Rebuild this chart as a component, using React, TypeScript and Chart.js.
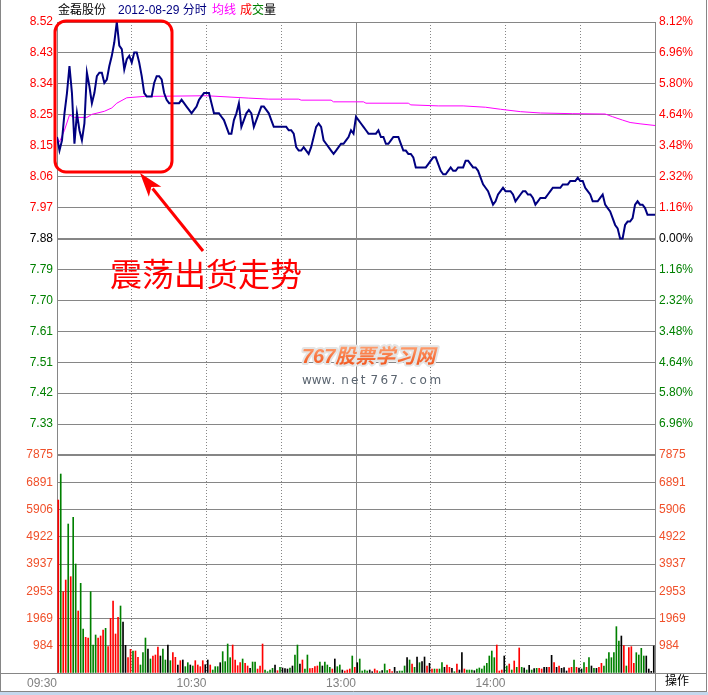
import React, { useEffect, useRef } from 'react';
import { Chart, registerables } from 'chart.js';

Chart.register(...registerables);

const STOCK_NAME = '金磊股份';
const TRADE_DATE = '2012-08-29';
const ANNOTATION = '震荡出货走势';
const WATERMARK = '767股票学习网';
const WATERMARK_URL = 'www.net767.com';
const CORNER_LABEL = '操作';

const PREV_CLOSE = 7.88;
const PRICE_TOP = 8.52;
const PRICE_LABELS = ['8.52', '8.43', '8.34', '8.25', '8.15', '8.06', '7.97', '7.88', '7.79', '7.70', '7.61', '7.51', '7.42', '7.33'];
const PCT_LABELS = ['8.12%', '6.96%', '5.80%', '4.64%', '3.48%', '2.32%', '1.16%', '0.00%', '1.16%', '2.32%', '3.48%', '4.64%', '5.80%', '6.96%'];
const VOL_TOP = 7875;
const VOL_LABELS = ['7875', '6891', '5906', '4922', '3937', '2953', '1969', '984'];
const TIME_LABELS = ['09:30', '', '10:30', '', '13:00', '', '14:00', '', ''];

// price per minute, 09:30 (0) .. 15:00 (240)
const PRICE = [
  8.18, 8.14, 8.17, 8.25, 8.31, 8.39, 8.31, 8.16, 8.25, 8.20,
  8.17, 8.22, 8.37, 8.33, 8.28, 8.31, 8.36, 8.37, 8.37, 8.34,
  8.35, 8.39, 8.42, 8.46, 8.52, 8.45, 8.44, 8.38, 8.41, 8.42,
  8.40, 8.43, 8.43, 8.40, 8.36, 8.31, 8.30, 8.30, 8.30, 8.34,
  8.36, 8.36, 8.35, 8.31, 8.29, 8.28, 8.28, 8.28, 8.28, 8.28,
  8.29, 8.28, 8.27, 8.26, 8.25, 8.26, 8.27, 8.29, 8.30, 8.31,
  8.31, 8.31, 8.28, 8.25, 8.25, 8.25, 8.24, 8.23, 8.21, 8.19,
  8.19, 8.23, 8.25, 8.28, 8.21, 8.23, 8.25, 8.26, 8.25, 8.21,
  8.23, 8.25, 8.27, 8.27, 8.26, 8.25, 8.23, 8.21, 8.21, 8.21,
  8.21, 8.21, 8.21, 8.20, 8.20, 8.19, 8.15, 8.14, 8.14, 8.15,
  8.14, 8.13, 8.15, 8.18, 8.21, 8.22, 8.21, 8.17, 8.16, 8.15,
  8.14, 8.13, 8.14, 8.15, 8.16, 8.16, 8.17, 8.18, 8.20, 8.19,
  8.24, 8.23, 8.22, 8.21, 8.20, 8.19, 8.19, 8.19, 8.19, 8.20,
  8.18, 8.18, 8.16, 8.16, 8.17, 8.18, 8.18, 8.18, 8.16, 8.14,
  8.14, 8.13, 8.13, 8.12, 8.09, 8.09, 8.09, 8.09, 8.09, 8.10,
  8.11, 8.12, 8.12, 8.10, 8.08, 8.07, 8.07, 8.08, 8.09, 8.08,
  8.08, 8.09, 8.09, 8.09, 8.11, 8.11, 8.10, 8.09, 8.09, 8.08,
  8.06, 8.04, 8.03, 8.02, 8.00, 7.98, 7.99, 8.01, 8.02, 8.03,
  8.02, 8.02, 8.02, 8.01, 7.99, 8.00, 8.01, 8.02, 8.02, 8.01,
  8.01, 8.00, 7.98, 7.99, 8.00, 8.00, 8.00, 8.01, 8.02, 8.03,
  8.03, 8.03, 8.03, 8.04, 8.04, 8.04, 8.05, 8.05, 8.05, 8.06,
  8.05, 8.05, 8.03, 8.02, 8.01, 7.99, 7.99, 7.99, 8.00, 8.01,
  7.98, 7.97, 7.96, 7.94, 7.92, 7.91, 7.88, 7.88, 7.92, 7.93,
  7.93, 7.94, 7.98, 7.99, 7.98, 7.98, 7.97, 7.95, 7.95, 7.95,
  7.95,
];

// average price line, read at these minutes
const AVG_MIN = [0, 1, 3, 5, 7, 12, 14, 19, 22, 24, 28, 35, 60, 77, 85, 97, 98, 110, 111, 123, 124, 141, 142, 153, 163, 172, 178, 186, 194, 207, 220, 223, 227, 230, 234, 240];
const AVG_PRICE = [8.18, 8.165, 8.2, 8.245, 8.238, 8.238, 8.247, 8.256, 8.266, 8.28, 8.296, 8.3, 8.302, 8.295, 8.292, 8.292, 8.289, 8.289, 8.284, 8.284, 8.28, 8.28, 8.275, 8.272, 8.272, 8.268, 8.262, 8.255, 8.251, 8.249, 8.248, 8.24, 8.23, 8.223, 8.219, 8.214];

// volume per minute bar (240 bars)
const VOLUME = [
  6249, 7188, 2938, 3359, 5382, 3480, 5623, 3937, 2240, 3239,
  1589, 1288, 1264, 2938, 1011, 1373, 1264, 1337, 1553, 1613,
  951, 1975, 2601, 1409, 2011, 2420, 1842, 999, 554, 855,
  795, 795, 566, 289, 735, 1264, 867, 506, 614, 650,
  939, 614, 867, 470, 1011, 446, 735, 566, 289, 446,
  470, 229, 373, 289, 253, 446, 289, 229, 446, 300,
  470, 289, 108, 229, 229, 373, 771, 410, 1047, 554,
  1011, 470, 265, 373, 506, 349, 253, 169, 397, 397,
  144, 253, 1047, 108, 48, 108, 169, 289, 84, 205,
  181, 157, 144, 181, 253, 650, 1011, 325, 470, 144,
  650, 157, 169, 229, 253, 397, 253, 397, 289, 205,
  144, 506, 229, 289, 108, 72, 108, 144, 614, 205,
  373, 506, 72, 108, 72, 108, 48, 144, 84, 48,
  84, 325, 84, 132, 48, 205, 48, 72, 72, 253,
  554, 470, 325, 205, 578, 373, 409, 578, 253, 349,
  144, 144, 144, 144, 373, 205, 289, 205, 169, 48,
  325, 108, 734, 144, 108, 108, 108, 84, 144, 181,
  144, 253, 349, 614, 794, 554, 1011, 72, 108, 614,
  253, 325, 108, 434, 205, 904, 205, 181, 108, 277,
  108, 157, 169, 169, 144, 205, 205, 205, 638, 373,
  205, 253, 169, 193, 72, 181, 205, 470, 205, 181,
  144, 373, 205, 554, 253, 169, 169, 205, 349, 253,
  506, 734, 554, 734, 1674, 1156, 1336, 987, 253, 915,
  951, 349, 734, 650, 891, 614, 614, 144, 60, 975,
];

// r = up (red), g = down (green), k = flat (black)
const VOL_SIDE = (
  'rgrrgrggrg' + 'grrgggrrrg' + 'rrrrrgkkrr' + 'grrgggkgrr' + 'rkggkgrrkr' +
  'kggkgrrrrk' + 'krgggkgggg' + 'rrrrgrrkgg' + 'rrrggggkrg' + 'kkkgkggkrg' +
  'grrrrgkggg' + 'rkggkrrrgr' + 'kggggkkrrg' + 'kggrrkkggg' + 'kgrgkgkkrk' +
  'rgrggkrrkg' + 'rkkrgggkgg' + 'ggggggrrrk' + 'grgrgrgkgk' + 'gkgrrkkrkr' +
  'krkkkrrgrk' + 'kgrgkgkrrg' + 'ggggggkrgr' + 'rrggggkkkk'
).split('');

const RED = '#ff0000';
const GREEN = '#008000';
const BLACK = '#000000';
const NAVY = '#000080';
const MAGENTA = '#ff00ff';
const GRID = '#868686';
const VOL_TEXT = '#f0502a';
const LABEL_FONT = { family: '"Liberation Sans", Arial, sans-serif', size: 12 };

const PRICE_STEP = (PRICE_TOP - PREV_CLOSE) / 7;
const PRICE_BOTTOM = PREV_CLOSE - (PRICE_TOP - PREV_CLOSE);
const PRICE_TICKS = Array.from({ length: 15 }, (_, j) => PRICE_TOP - j * PRICE_STEP);
const VOL_TICKS = Array.from({ length: 9 }, (_, j) => VOL_TOP - (j * VOL_TOP) / 8);
const TIME_TICKS = Array.from({ length: 9 }, (_, j) => j * 30);

const sideColor = (s: string) => (s === 'r' ? RED : s === 'g' ? GREEN : BLACK);
const levelColor = (i: number) => (i < 7 ? RED : i === 7 ? BLACK : GREEN);

const decor = {
  id: 'decor',
  beforeDraw(chart: any) {
    const { ctx, width, height } = chart;
    ctx.save();
    ctx.fillStyle = '#ffffff';
    ctx.fillRect(0, 0, width, height);
    ctx.restore();
  },
  afterDraw(chart: any) {
    const { ctx, chartArea: a } = chart;
    ctx.save();
    const L = (x1: number, y1: number, x2: number, y2: number) => {
      ctx.beginPath();
      ctx.moveTo(x1, y1);
      ctx.lineTo(x2, y2);
      ctx.stroke();
    };
    // frame
    ctx.strokeStyle = GRID;
    ctx.lineWidth = 1;
    L(0, Math.round(a.bottom) + 0.5, 707, Math.round(a.bottom) + 0.5);
    L(0, 691.5, 707, 691.5);
    L(0.5, 0, 0.5, 692);
    L(706.5, 0, 706.5, 692);
    L(Math.round(a.right) + 0.5, a.bottom, Math.round(a.right) + 0.5, 692);
    ctx.fillStyle = '#c4d8ee';
    ctx.fillRect(0, 692, 708, 3);

    // header
    ctx.textBaseline = 'middle';
    ctx.textAlign = 'left';
    ctx.font = '12px "Liberation Sans", "Noto Sans CJK SC", sans-serif';
    ctx.fillStyle = BLACK;
    ctx.fillText(STOCK_NAME, 58, 11);
    ctx.fillStyle = NAVY;
    ctx.fillText(TRADE_DATE + ' 分时', 118, 11);
    ctx.fillStyle = MAGENTA;
    ctx.fillText('均线', 212, 11);
    ctx.fillStyle = RED;
    ctx.fillText('成', 240, 11);
    ctx.fillStyle = GREEN;
    ctx.fillText('交', 252, 11);
    ctx.fillStyle = BLACK;
    ctx.fillText('量', 264, 11);

    // bottom-right corner label
    ctx.fillText(CORNER_LABEL, 665, 682);

    // annotation box
    ctx.strokeStyle = RED;
    ctx.lineWidth = 3;
    ctx.beginPath();
    (ctx as any).roundRect(55, 21, 117, 151, 11);
    ctx.stroke();
    // arrow
    const tip = { x: 140, y: 173 };
    const tail = { x: 203, y: 251 };
    const dx = tip.x - tail.x, dy = tip.y - tail.y;
    const len = Math.hypot(dx, dy);
    const ux = dx / len, uy = dy / len;
    const hl = 24, hw = 8;
    const bx = tip.x - ux * hl, by = tip.y - uy * hl;
    ctx.lineWidth = 3;
    L(tail.x, tail.y, bx + ux * 4, by + uy * 4);
    ctx.fillStyle = RED;
    ctx.beginPath();
    ctx.moveTo(tip.x, tip.y);
    ctx.lineTo(bx - uy * hw, by + ux * hw);
    ctx.lineTo(bx + ux * 6, by + uy * 6);
    ctx.lineTo(bx + uy * hw, by - ux * hw);
    ctx.closePath();
    ctx.fill();
    // annotation text
    ctx.font = '32px "Noto Sans CJK SC", sans-serif';
    ctx.fillStyle = RED;
    ctx.fillText(ANNOTATION, 110, 274);

    // watermark
    ctx.font = 'italic bold 20px "Liberation Sans", "Noto Sans CJK SC", sans-serif';
    ctx.lineWidth = 4;
    ctx.strokeStyle = '#e4e4e4';
    ctx.lineJoin = 'round';
    ctx.strokeText(WATERMARK, 302, 357);
    const grad = ctx.createLinearGradient(0, 346, 0, 368);
    grad.addColorStop(0, '#ffa070');
    grad.addColorStop(1, '#f04a10');
    ctx.fillStyle = grad;
    ctx.fillText(WATERMARK, 302, 357);
    ctx.font = '12px "DejaVu Sans", sans-serif';
    ctx.fillStyle = '#5b6570';
    WATERMARK_URL.split('').forEach((c, i) => ctx.fillText(c, 302 + i * 9.8, 381));
    ctx.restore();
  },
};

export default function App() {
  const ref = useRef<HTMLCanvasElement | null>(null);

  useEffect(() => {
    if (!ref.current) return;
    const chart = new Chart(ref.current, {
      type: 'line',
      data: {
        datasets: [
          {
            type: 'line',
            label: 'price',
            data: PRICE.map((p, i) => ({ x: i, y: p })),
            yAxisID: 'y',
            borderColor: NAVY,
            borderWidth: 2,
            pointRadius: 0,
            tension: 0,
            order: 0,
          },
          {
            type: 'line',
            label: 'avg',
            data: AVG_PRICE.map((p, i) => ({ x: AVG_MIN[i], y: p })),
            yAxisID: 'y',
            borderColor: MAGENTA,
            borderWidth: 1,
            pointRadius: 0,
            tension: 0,
            order: 1,
          },
          {
            type: 'bar',
            label: 'volume',
            data: VOLUME.map((v, k) => ({ x: k + 0.5, y: v })),
            yAxisID: 'yv',
            backgroundColor: VOL_SIDE.map(sideColor),
            barThickness: 1,
            grouped: false,
            order: 2,
          } as any,
        ],
      },
      options: {
        responsive: false,
        animation: false,
        events: [],
        layout: { padding: { top: 22, left: 0, right: 0, bottom: 0 } },
        plugins: { legend: { display: false }, tooltip: { enabled: false } },
        scales: {
          x: {
            type: 'linear',
            min: 0,
            max: 240,
            offset: false,
            afterBuildTicks: (s: any) => {
              s.ticks = TIME_TICKS.map((v) => ({ value: v }));
            },
            afterFit: (s: any) => {
              s.height = 22;
            },
            grid: {
              offset: false,
              drawTicks: false,
              color: (c: any) => (c.index === 0 || c.index === 8 ? 'rgba(0,0,0,0)' : GRID),
            },
            border: { display: true, color: GRID, dash: (c: any) => (c.index === 4 ? [] : [1, 2]) },
            ticks: {
              align: 'end',
              autoSkip: false,
              maxRotation: 0,
              padding: 3,
              color: '#808080',
              font: LABEL_FONT,
              callback: (_v: any, i: number) => TIME_LABELS[i],
            },
          },
          yv: {
            type: 'linear',
            position: 'left',
            stack: 'left',
            stackWeight: 218,
            min: 0,
            max: VOL_TOP,
            afterBuildTicks: (s: any) => {
              s.ticks = VOL_TICKS.map((v) => ({ value: v }));
            },
            afterFit: (s: any) => {
              s.width = 57;
            },
            grid: { drawTicks: false, color: GRID, lineWidth: (c: any) => (c.index === 0 ? 2 : 1) },
            border: { display: true, color: GRID },
            ticks: { autoSkip: false, padding: 4, color: VOL_TEXT, font: LABEL_FONT, callback: (_v: any, i: number) => VOL_LABELS[i] ?? '' },
          },
          y: {
            type: 'linear',
            position: 'left',
            stack: 'left',
            stackWeight: 433,
            min: PRICE_BOTTOM,
            max: PRICE_TOP,
            afterBuildTicks: (s: any) => {
              s.ticks = PRICE_TICKS.map((v) => ({ value: v }));
            },
            afterFit: (s: any) => {
              s.width = 57;
            },
            grid: { drawTicks: false, color: GRID, lineWidth: (c: any) => (c.index === 7 || c.index === 14 ? 2 : 1) },
            border: { display: true, color: GRID },
            ticks: {
              autoSkip: false,
              padding: 4,
              font: LABEL_FONT,
              color: (c: any) => levelColor(c.index),
              callback: (_v: any, i: number) => PRICE_LABELS[i] ?? '',
            },
          },
          yp: {
            type: 'linear',
            position: 'right',
            stack: 'right',
            stackWeight: 433,
            min: PRICE_BOTTOM,
            max: PRICE_TOP,
            afterBuildTicks: (s: any) => {
              s.ticks = PRICE_TICKS.map((v) => ({ value: v }));
            },
            afterFit: (s: any) => {
              s.width = 53;
            },
            grid: { display: false, drawTicks: false },
            border: { display: true, color: GRID },
            ticks: {
              autoSkip: false,
              padding: 4,
              font: LABEL_FONT,
              color: (c: any) => levelColor(c.index),
              callback: (_v: any, i: number) => PCT_LABELS[i] ?? '',
            },
          },
          yvr: {
            type: 'linear',
            position: 'right',
            stack: 'right',
            stackWeight: 218,
            min: 0,
            max: VOL_TOP,
            afterBuildTicks: (s: any) => {
              s.ticks = VOL_TICKS.map((v) => ({ value: v }));
            },
            afterFit: (s: any) => {
              s.width = 53;
            },
            grid: { display: false, drawTicks: false },
            border: { display: true, color: GRID },
            ticks: { autoSkip: false, padding: 4, color: VOL_TEXT, font: LABEL_FONT, callback: (_v: any, i: number) => VOL_LABELS[i] ?? '' },
          },
        } as any,
      },
      plugins: [decor],
    });
    return () => chart.destroy();
  }, []);

  return (
    <div style={{ position: 'fixed', left: 0, top: 0, width: 708, height: 695, background: '#fff' }}>
      <canvas ref={ref} width={708} height={695} style={{ display: 'block', width: 708, height: 695 }} />
    </div>
  );
}
